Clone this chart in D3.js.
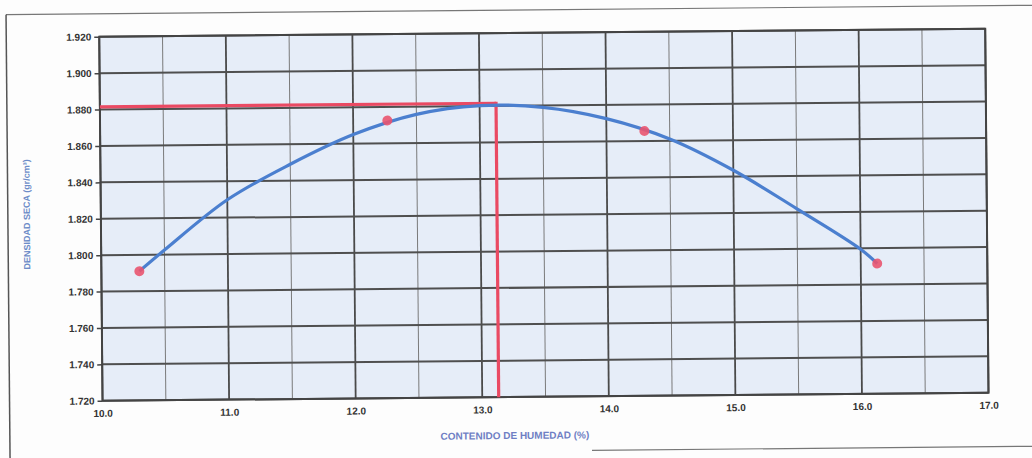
<!DOCTYPE html>
<html>
<head>
<meta charset="utf-8">
<script src="https://cdn.jsdelivr.net/npm/d3@7/dist/d3.min.js"></script>
<style>
  body { margin: 0; background: #fdfdfd; }
  svg { display: block; }
</style>
</head>
<body>
<svg id="chart" width="1032" height="458"></svg>
<script>
// compaction test readings (moisture %, dry density gr/cm3)
const moisture = [10.3, 12.27, 14.3, 16.13];
const density = [1.791, 1.8725, 1.8655, 1.7915];

// fitted curve
const curveMoisture = [10.3, 10.5, 11.0, 11.5, 12.0, 12.5, 13.0, 13.5, 14.0, 14.5, 15.0, 15.5, 16.0, 16.13];
const curveDensity = [1.791, 1.8025, 1.8298, 1.849, 1.865, 1.8758, 1.8803, 1.879, 1.8725, 1.861, 1.8435, 1.822, 1.7995, 1.7915];

// optimum moisture / max dry density
const optMoisture = 13.13;
const maxDensity = 1.8815;

const xTicks = [10, 11, 12, 13, 14, 15, 16, 17];
const xMinor = [10.5, 11.5, 12.5, 13.5, 14.5, 15.5, 16.5];
const yTicks = [1.72, 1.74, 1.76, 1.78, 1.80, 1.82, 1.84, 1.86, 1.88, 1.90, 1.92];

const svg = d3.select('#chart');
const width = 1032, height = 458;
const margin = { top: 33, right: 45, bottom: 61, left: 101 };
const plotW = width - margin.left - margin.right;
const plotH = height - margin.top - margin.bottom;

// the scan is slightly tilted
const root = svg.append('g')
  .attr('transform', `rotate(-0.52, ${width / 2}, ${height / 2})`);

// page frame lines
root.append('line').attr('x1', 8).attr('x2', 1040).attr('y1', 10).attr('y2', 10)
  .attr('stroke', '#777').attr('stroke-width', 1.2);
root.append('line').attr('x1', 8).attr('x2', 8).attr('y1', 10).attr('y2', 470)
  .attr('stroke', '#555').attr('stroke-width', 1.5);
root.append('line').attr('x1', 590).attr('x2', 1040).attr('y1', 451).attr('y2', 451)
  .attr('stroke', '#777').attr('stroke-width', 1.2);

const g = root.append('g').attr('transform', `translate(${margin.left},${margin.top})`);

const x = d3.scaleLinear().domain([10, 17]).range([0, plotW]);
const y = d3.scaleLinear().domain([1.72, 1.92]).range([plotH, 0]);

g.append('rect')
  .attr('width', plotW).attr('height', plotH)
  .attr('fill', '#e6edf8');

// minor vertical grid
g.selectAll('.vminor').data(xMinor).enter().append('line')
  .attr('x1', d => x(d)).attr('x2', d => x(d))
  .attr('y1', 0).attr('y2', plotH)
  .attr('stroke', '#7a7a7a').attr('stroke-width', 1);

// major vertical grid
g.selectAll('.vmajor').data(xTicks).enter().append('line')
  .attr('x1', d => x(d)).attr('x2', d => x(d))
  .attr('y1', 0).attr('y2', plotH)
  .attr('stroke', '#4a4a4a').attr('stroke-width', 1.8);

// horizontal grid
g.selectAll('.hgrid').data(yTicks).enter().append('line')
  .attr('x1', 0).attr('x2', plotW)
  .attr('y1', d => y(d)).attr('y2', d => y(d))
  .attr('stroke', '#4f4f4f').attr('stroke-width', 2);

g.append('rect')
  .attr('width', plotW).attr('height', plotH)
  .attr('fill', 'none').attr('stroke', '#444').attr('stroke-width', 2);

// axes
const xAxis = g.append('g')
  .attr('transform', `translate(0,${plotH})`)
  .call(d3.axisBottom(x).tickValues(xTicks).tickSize(0).tickPadding(9).tickFormat(d3.format('.1f')));
const yAxis = g.append('g')
  .call(d3.axisLeft(y).tickValues(yTicks).tickSize(5).tickPadding(3).tickFormat(d3.format('.3f')));

[xAxis, yAxis].forEach(a => {
  a.select('.domain').remove();
  a.selectAll('text')
    .attr('fill', '#333')
    .style('font-family', '"Liberation Sans Narrow", "Arial Narrow", "Liberation Sans", sans-serif')
    .style('font-weight', 'bold')
    .style('font-size', '10px');
});
yAxis.selectAll('line').attr('stroke', '#444').attr('stroke-width', 1.5);

// max density / optimum moisture lines
const red = '#ea4a63';
g.append('line')
  .attr('x1', 0).attr('x2', x(optMoisture))
  .attr('y1', y(maxDensity)).attr('y2', y(maxDensity))
  .attr('stroke', red).attr('stroke-width', 3.2);
g.append('line')
  .attr('x1', x(optMoisture)).attr('x2', x(optMoisture))
  .attr('y1', y(maxDensity) - 1.6).attr('y2', plotH)
  .attr('stroke', red).attr('stroke-width', 3.2);

// fitted curve
const curve = curveMoisture.map((m, i) => [m, curveDensity[i]]);
g.append('path')
  .datum(curve)
  .attr('fill', 'none')
  .attr('stroke', '#4b7fcf')
  .attr('stroke-width', 3.2)
  .attr('d', d3.line().x(d => x(d[0])).y(d => y(d[1])).curve(d3.curveCatmullRom));

// test points
const pts = moisture.map((m, i) => [m, density[i]]);
g.selectAll('.pt').data(pts).enter().append('circle')
  .attr('cx', d => x(d[0])).attr('cy', d => y(d[1]))
  .attr('r', 5)
  .attr('fill', '#e9546f')
  .attr('opacity', 0.9);

// axis titles
g.append('text')
  .attr('transform', 'rotate(-90)')
  .attr('x', -plotH / 2 + 5)
  .attr('y', -71)
  .attr('text-anchor', 'middle')
  .attr('fill', '#6d8cc8')
  .style('font-family', '"Liberation Sans", Arial, sans-serif')
  .style('font-weight', 'bold')
  .style('font-size', '9px')
  .text('DENSIDAD SECA (gr/cm³)');

g.append('text')
  .attr('x', plotW / 2 - 31)
  .attr('y', plotH + 42)
  .attr('text-anchor', 'middle')
  .attr('fill', '#6f7fc4')
  .style('font-family', '"Liberation Sans Narrow", "Arial Narrow", sans-serif')
  .style('font-weight', 'bold')
  .style('font-size', '10px')
  .text('CONTENIDO DE HUMEDAD (%)');
</script>
</body>
</html>
